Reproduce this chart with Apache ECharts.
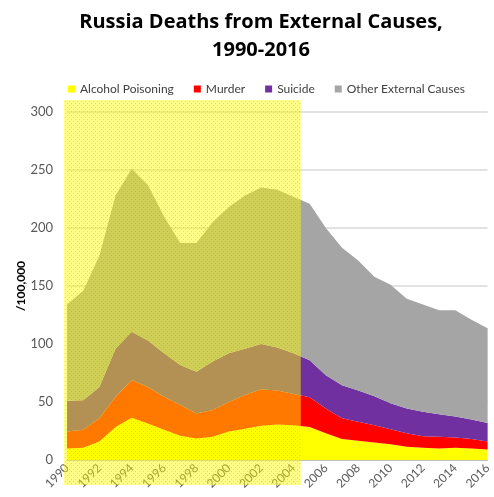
<!DOCTYPE html>
<html>
<head>
<meta charset="utf-8">
<script src="https://cdn.jsdelivr.net/npm/echarts@6/dist/echarts.min.js"></script>
<style>
  html, body { margin: 0; padding: 0; background: #fff; }
  #main { width: 494px; height: 497px; }
</style>
</head>
<body>
<div id="main"></div>
<script>
// data (deaths per 100,000)
var years = ['1990', '1991', '1992', '1993', '1994', '1995', '1996', '1997', '1998', '1999',
  '2000', '2001', '2002', '2003', '2004', '2005', '2006', '2007', '2008', '2009',
  '2010', '2011', '2012', '2013', '2014', '2015', '2016'];
var alcohol = [10, 10.5, 16, 28.5, 36.5, 31.5, 26, 21, 18.5, 20, 24.5, 27, 29.5, 30.5, 30, 28.5, 23, 18, 16.5, 15, 13.5, 11.5, 10.5, 10, 10.5, 10, 9];
var murder = [14.5, 15.5, 20, 26, 32.5, 31.5, 28.5, 26.5, 21.5, 23, 25.5, 29, 31.5, 29.5, 27, 25.5, 21.5, 18, 16.5, 15, 13, 11.5, 10, 10, 9, 8, 7];
var suicide = [26.5, 25.5, 27, 41.5, 41.5, 40, 37.5, 34.5, 36, 42, 42, 40, 39, 37, 35, 32, 28.5, 28.5, 27, 25, 22.5, 21.5, 21, 19.5, 18, 17, 16];
var other = [83, 94.5, 113, 132, 140.5, 134, 118, 105, 111, 120, 126, 132, 135, 136, 135, 135, 127, 118.5, 112, 103, 102, 94.5, 92.5, 89.5, 91.5, 86, 81.5];

var seriesNames = ['Alcohol Poisoning', 'Murder', 'Suicide', 'Other External Causes'];
var seriesData = [alcohol, murder, suicide, other];
var colors = ['#ffff00', '#ff0000', '#7030a0', '#a5a5a5'];

// highlighted period (yellow band), in years
var bandStart = 1990;
var bandEnd = 2004.45;

var chart = echarts.init(document.getElementById('main'));

function areaSeries(i) {
  return {
    name: seriesNames[i],
    type: 'line',
    stack: 'total',
    data: seriesData[i],
    symbol: 'none',
    lineStyle: { width: 0 },
    areaStyle: { color: colors[i], opacity: 1 },
    itemStyle: { color: colors[i] },
    emphasis: { disabled: true }
  };
}

chart.setOption({
  animation: false,
  textStyle: { fontFamily: 'Lato' },
  color: colors,
  title: {
    text: 'Russia Deaths from External Causes,\n1990-2016',
    left: 256,
    textAlign: 'center',
    top: 3,
    textStyle: {
      fontFamily: 'Open Sans',
      fontSize: 20,
      fontWeight: 'bold',
      color: '#000',
      lineHeight: 28
    }
  },
  legend: {
    top: 78,
    left: 63,
    icon: 'rect',
    itemWidth: 7,
    itemHeight: 7,
    itemGap: 20,
    textStyle: { fontSize: 12, color: '#404040', fontFamily: 'Lato' },
    data: seriesNames
  },
  grid: {
    left: 67,
    right: 4,
    top: 112,
    bottom: 37
  },
  xAxis: {
    type: 'category',
    data: years,
    boundaryGap: false,
    axisLine: { lineStyle: { color: '#bfbfbf' } },
    axisTick: { show: false },
    axisLabel: {
      interval: 1,
      rotate: 45,
      fontSize: 12,
      color: '#595959',
      margin: 6
    }
  },
  yAxis: {
    type: 'value',
    min: 0,
    max: 300,
    interval: 50,
    name: '/100,000',
    nameLocation: 'middle',
    nameGap: 40,
    nameMoveOverlap: false,
    nameTextStyle: { fontSize: 12, fontWeight: 'bold', color: '#000' },
    axisLine: { show: false },
    axisTick: { show: false },
    axisLabel: { fontSize: 13, color: '#595959', margin: 14 },
    splitLine: { lineStyle: { color: '#d9d9d9', width: 1.5 } }
  },
  series: [0, 1, 2, 3].map(areaSeries)
});

// dotted translucent yellow fill for the band
var pat = document.createElement('canvas');
pat.width = 4;
pat.height = 4;
var pctx = pat.getContext('2d');
pctx.fillStyle = 'rgba(255,255,0,0.47)';
pctx.fillRect(0, 0, 4, 4);
pctx.fillStyle = 'rgba(150,150,150,0.35)';
pctx.fillRect(1, 1, 1, 1);
pctx.fillRect(3, 3, 1, 1);

function yearToPx(y) {
  var i = Math.floor(y - 1990);
  var f = y - 1990 - i;
  var a = chart.convertToPixel({ xAxisIndex: 0 }, years[i]);
  var b = i + 1 < years.length ? chart.convertToPixel({ xAxisIndex: 0 }, years[i + 1]) : a;
  return a + (b - a) * f;
}

var x0 = yearToPx(bandStart) - 3;
var x1 = yearToPx(bandEnd);
var yTop = chart.convertToPixel({ yAxisIndex: 0 }, 300) - 12;
var yBottom = chart.convertToPixel({ yAxisIndex: 0 }, 0) + 25;

chart.setOption({
  graphic: [{
    type: 'rect',
    z: 100,
    silent: true,
    shape: { x: x0, y: yTop, width: x1 - x0, height: yBottom - yTop },
    style: { fill: { image: pat, repeat: 'repeat' } }
  }]
});
</script>
</body>
</html>
